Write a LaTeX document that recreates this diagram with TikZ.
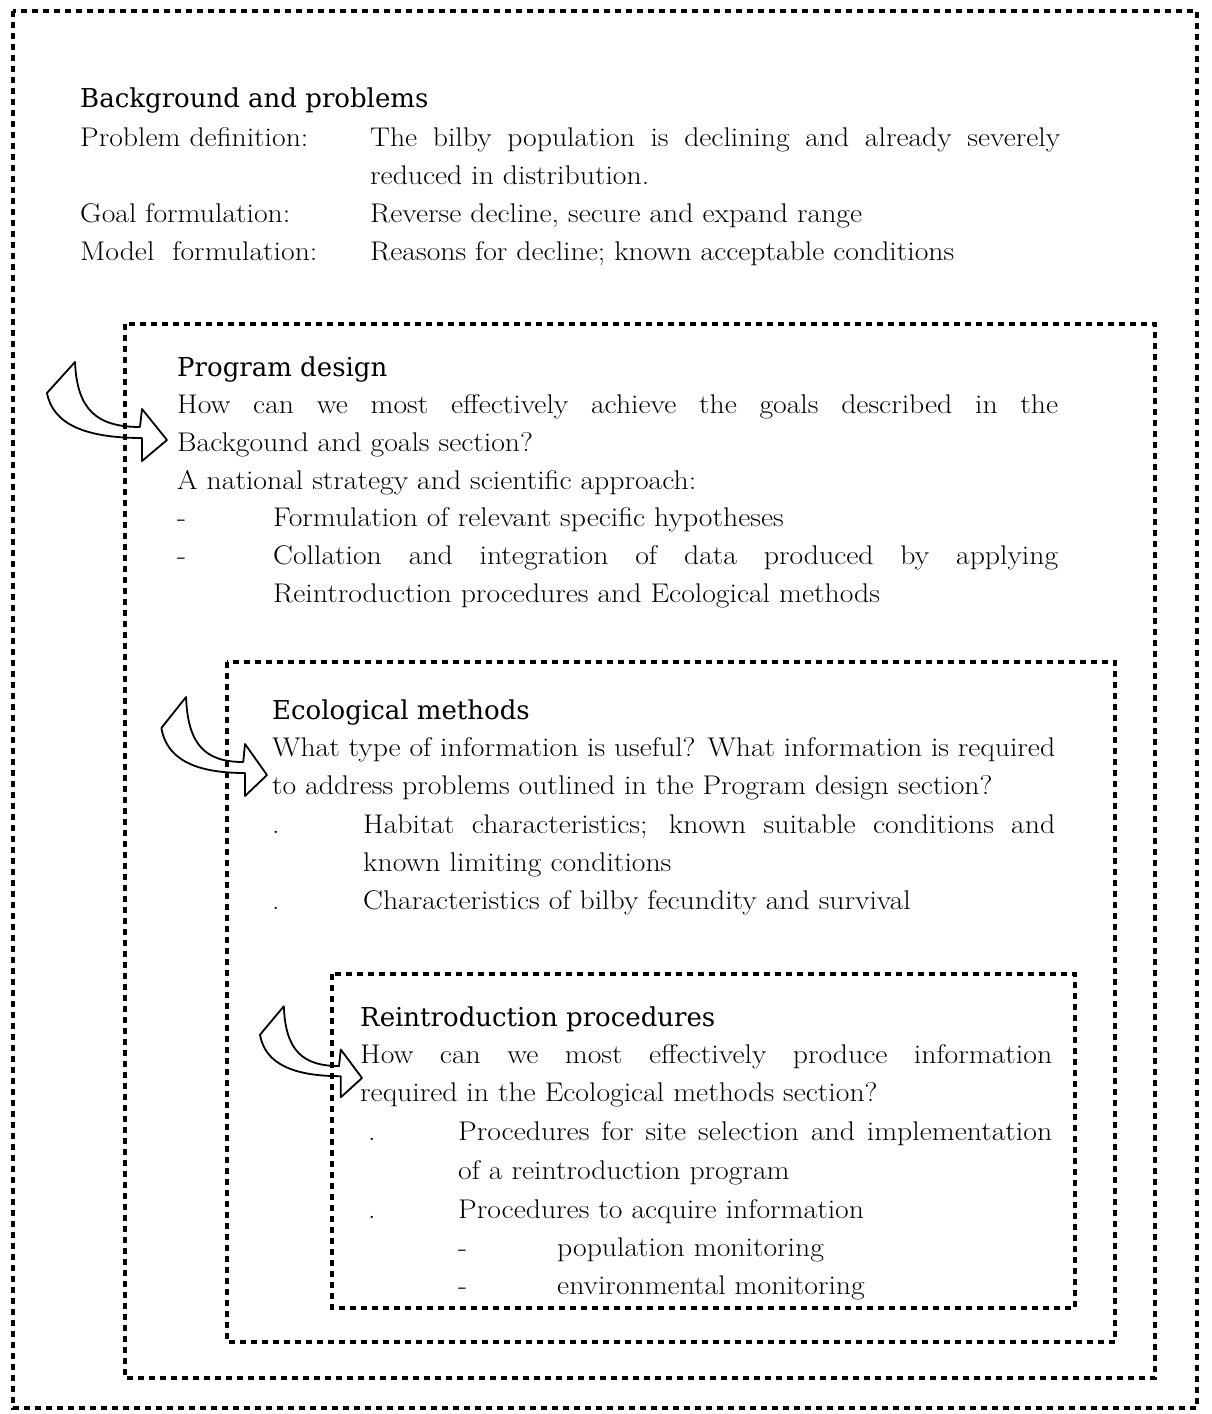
\documentclass[tikz,border=0pt]{standalone}
\usepackage{fontspec}
\setmainfont{Latin Modern Roman}[FakeStretch=1.1]
\newfontfamily\headfont{DejaVu Serif}
\tikzset{
  box/.style={line width=4pt, dash pattern=on 6pt off 5pt},
  body/.style={anchor=base west, inner sep=0pt, font=\fontsize{27}{32}\selectfont},
  head/.style={anchor=base west, inner sep=0pt, font=\headfont\fontsize{26}{30}\selectfont},
  arrowline/.style={line width=1.8pt, line join=round},
  bentarrow/.pic={\draw[arrowline] (-92,-78) .. controls (-90,-30) and (-70,-13) .. (-27,-13) -- (-25,-31) -- (0,0) -- (-25,21) -- (-25,-2) .. controls (-80,-2) and (-114,-15) .. (-120,-47) -- cycle;}
}
\newcommand{\jl}[2]{\makebox[#1pt][s]{#2}}
\begin{document}
\begin{tikzpicture}[x=1pt,y=-1pt]
\useasboundingbox (0,0) rectangle (1211,1414);
% boxes
\draw[box] (13,11) rectangle (1197,1408);
\draw[box] (125,324) rectangle (1155,1378);
\draw[box] (227,662) rectangle (1115,1342);
\draw[box] (332,974) rectangle (1075,1308);
% arrows
\pic at (167,440) {bentarrow};
\pic[xscale=0.88] at (267,775) {bentarrow};
\pic[xscale=0.85,yscale=0.92] at (362,1078) {bentarrow};
% background
\node[head] (bh) at (80,107) {Background and problems};
\node[body] (pd) at (80,146) {Problem definition:};
\node[body] (pd1) at (370,146) {\jl{690}{The bilby population is declining and already severely}};
\node[body] (pd2) at (370,184) {reduced in distribution.};
\node[body] (gf) at (80,222) {Goal formulation:};
\node[body] (gf1) at (370,222) {Reverse decline, secure and expand range};
\node[body] (mf) at (80,260) {Model\ \ formulation:};
\node[body] (mf1) at (370,260) {Reasons for decline; known acceptable conditions};
% program design
\node[head] (ph) at (177,376) {Program design};
\node[body] (p1) at (177,413) {\jl{881}{How can we most effectively achieve the goals described in the}};
\node[body] (p2) at (177,451) {Backgound and goals section?};
\node[body] (p3) at (177,489) {A national strategy and scientific approach:};
\node[body] (pb1) at (177,526) {-};
\node[body] (p4) at (273,526) {Formulation of relevant specific hypotheses};
\node[body] (pb2) at (177,564) {-};
\node[body] (p5) at (273,564) {\jl{785}{Collation and integration of data produced by applying}};
\node[body] (p6) at (273,602) {Reintroduction procedures and Ecological methods};
% ecological methods
\node[head] (eh) at (272,719) {Ecological methods};
\node[body] (e1) at (272,756) {\jl{783}{What type of information is useful? What information is required}};
\node[body] (e2) at (272,794) {to address problems outlined in the Program design section?};
\node[body] (eb1) at (272,833) {.};
\node[body] (e3) at (363,833) {\jl{692}{Habitat characteristics; known suitable conditions and}};
\node[body] (e4) at (363,871) {known limiting conditions};
\node[body] (eb2) at (272,909) {.};
\node[body] (e5) at (363,909) {Characteristics of bilby fecundity and survival};
% reintroduction procedures
\node[head] (rh) at (360,1026) {Reintroduction procedures};
\node[body] (r1) at (360,1063) {\jl{692}{How can we most effectively produce information}};
\node[body] (r2) at (360,1101) {required in the Ecological methods section?};
\node[body] (rb1) at (368,1140) {.};
\node[body] (r3) at (458,1140) {\jl{594}{Procedures for site selection and implementation}};
\node[body] (r4) at (458,1179) {of a reintroduction program};
\node[body] (rb2) at (368,1218) {.};
\node[body] (r5) at (458,1218) {Procedures to acquire information};
\node[body] (rd1) at (458,1256) {-};
\node[body] (r6) at (557,1256) {population monitoring};
\node[body] (rd2) at (458,1294) {-};
\node[body] (r7) at (557,1294) {environmental monitoring};
\end{tikzpicture}
\end{document}
